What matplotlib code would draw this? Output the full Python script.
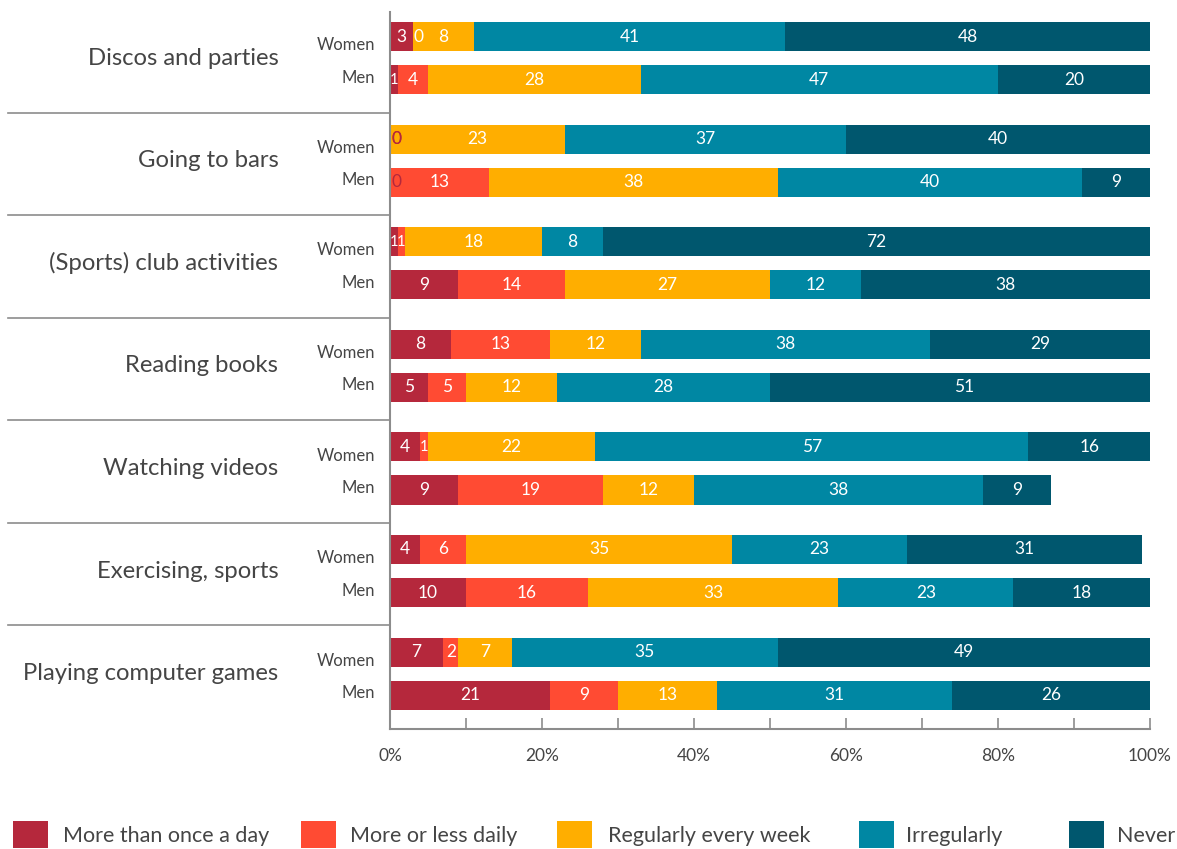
import matplotlib
matplotlib.use("Agg")
import matplotlib.pyplot as plt
from matplotlib.patches import Rectangle
from matplotlib.ticker import MultipleLocator, FuncFormatter

plt.rcParams['font.family'] = ['Lato', 'DejaVu Sans']

categories = ["Discos and parties", "Going to bars", "(Sports) club activities",
              "Reading books", "Watching videos", "Exercising, sports",
              "Playing computer games"]
series_names = ["More than once a day", "More or less daily",
                "Regularly every week", "Irregularly", "Never"]
colors = ["#B5283C", "#FF4B33", "#FFAE00", "#0087A3", "#00576E"]

# Share of respondents (%) per frequency, Women
women_more_than_once = [3, 0, 1, 8, 4, 4, 7]
women_daily = [0, 0, 1, 13, 1, 6, 2]
women_weekly = [8, 23, 18, 12, 22, 35, 7]
women_irregular = [41, 37, 8, 38, 57, 23, 35]
women_never = [48, 40, 72, 29, 16, 31, 49]

# Share of respondents (%) per frequency, Men
men_more_than_once = [1, 0, 9, 5, 9, 10, 21]
men_daily = [4, 13, 14, 5, 19, 16, 9]
men_weekly = [28, 38, 27, 12, 12, 33, 13]
men_irregular = [47, 40, 12, 28, 38, 23, 31]
men_never = [20, 9, 38, 51, 9, 18, 26]

women = [women_more_than_once, women_daily, women_weekly, women_irregular, women_never]
men = [men_more_than_once, men_daily, men_weekly, men_irregular, men_never]

text_color = "#454545"
axis_color = "#8C8C8C"

W, H = 1177, 849
fig = plt.figure(figsize=(W / 100, H / 100), dpi=100)
ax = fig.add_axes([390 / W, 1 - 729 / H, 760 / W, (729 - 12) / H])

row_off = 0.21
bar_h = 0.283
label_size = 12.5


def draw_row(values_by_series, idx, y):
    left = 0
    for s, vals in enumerate(values_by_series):
        v = vals[idx]
        ax.barh(y, v, left=left, height=bar_h, color=colors[s], linewidth=0)
        if v == 0:
            if left == 0:
                # nothing underneath: write the zero in the first series colour
                ax.text(left + 0.2, y, "0", ha="left", va="center",
                        fontsize=label_size, color=colors[0])
            else:
                ax.text(left + 0.1, y, "0", ha="left", va="center",
                        fontsize=label_size, color="white")
        else:
            size = label_size if v > 1 else 10.5
            ax.text(left + v / 2, y, str(v), ha="center", va="center",
                    fontsize=size, color="white")
        left += v


for i, cat in enumerate(categories):
    draw_row(women, i, i - row_off)
    draw_row(men, i, i + row_off)
    ax.text(-0.147, i, cat, transform=ax.get_yaxis_transform(),
            ha="right", va="center", fontsize=17.2, color=text_color)
    ax.text(-0.02, i - 0.125, "Women", transform=ax.get_yaxis_transform(),
            ha="right", va="center", fontsize=12, color=text_color)
    ax.text(-0.02, i + 0.19, "Men", transform=ax.get_yaxis_transform(),
            ha="right", va="center", fontsize=12, color=text_color)

# group separators extending into the label area
for i in range(len(categories) - 1):
    ax.plot([-0.5026, 0], [i + 0.53, i + 0.53], transform=ax.get_yaxis_transform(),
            color=axis_color, linewidth=1.2, clip_on=False)

ax.set_xlim(0, 100)
ax.set_ylim(6.54, -0.45)

for side in ["top", "right"]:
    ax.spines[side].set_visible(False)
for side in ["left", "bottom"]:
    ax.spines[side].set_color(axis_color)
    ax.spines[side].set_linewidth(1.5)

ax.set_yticks([])
ax.xaxis.set_major_locator(MultipleLocator(20))
ax.xaxis.set_minor_locator(MultipleLocator(10))
ax.xaxis.set_major_formatter(FuncFormatter(lambda v, p: f"{int(v)}%"))
ax.tick_params(axis="x", which="both", direction="in", length=8, width=1.2,
               color=axis_color, labelsize=12.5, labelcolor=text_color, pad=14)

# legend along the bottom
sq_x = [13, 301, 557, 859, 1069]
txt_x = [63, 350, 608, 906, 1117]
for s, name in enumerate(series_names):
    fig.patches.append(Rectangle((sq_x[s] / W, 1 - 848 / H), 35 / W, 27 / H,
                                 transform=fig.transFigure, color=colors[s],
                                 linewidth=0))
    fig.text(txt_x[s] / W, 1 - 836 / H, name, ha="left", va="center",
             fontsize=15.5, color=text_color)

fig.savefig("out.png", dpi=100)
